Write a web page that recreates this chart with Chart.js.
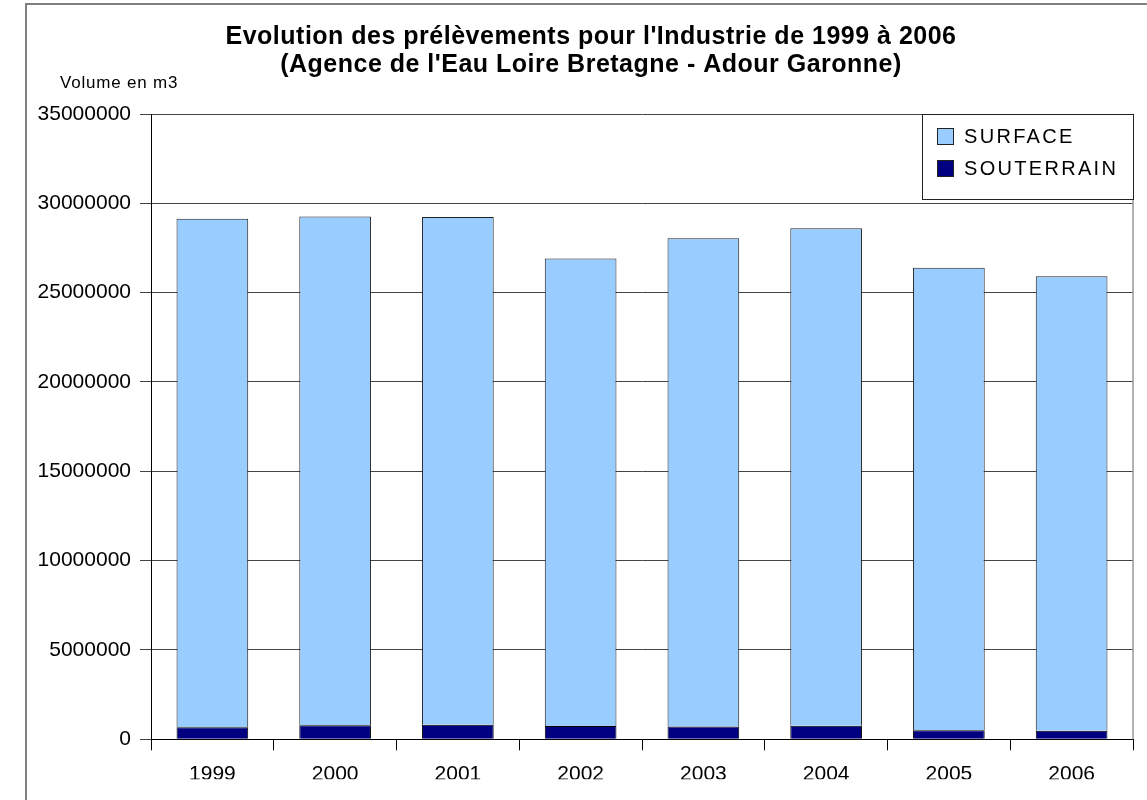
<!DOCTYPE html>
<html>
<head>
<meta charset="utf-8">
<script src="https://cdn.jsdelivr.net/npm/chart.js@4/dist/chart.umd.min.js"></script>
<style>
  html, body { margin: 0; padding: 0; background: #fff; }
  #wrap { width: 1147px; height: 800px; position: relative; }
</style>
</head>
<body>
<div id="wrap"><canvas id="grafica"></canvas></div>
<script>
// DATOS
const annees = ['1999', '2000', '2001', '2002', '2003', '2004', '2005', '2006'];
const souterrain = [670000, 780000, 820000, 740000, 710000, 760000, 500000, 480000];
const surface = [28460000, 28480000, 28410000, 26170000, 27340000, 27850000, 25890000, 25440000];
const yTicks = [0, 5000000, 10000000, 15000000, 20000000, 25000000, 30000000, 35000000];

const titre = ["Evolution des prélèvements pour l'Industrie de 1999 à 2006", "(Agence de l'Eau Loire Bretagne - Adour Garonne)"];
const uniteY = 'Volume en m3';

const police = "'Liberation Sans', Arial, sans-serif";

// cadre gris, titre, unite, bordure droite et legende
const decorPlugin = {
    id: 'decor',
    beforeDraw(chart) {
        const ctx = chart.ctx;
        ctx.save();
        ctx.strokeStyle = '#808080';
        ctx.lineWidth = 2;
        ctx.beginPath();
        ctx.moveTo(26, 800);
        ctx.lineTo(26, 4);
        ctx.lineTo(1147, 4);
        ctx.stroke();

        // titre (2 lignes)
        ctx.fillStyle = '#000';
        ctx.textAlign = 'center';
        ctx.textBaseline = 'middle';
        ctx.font = 'bold 25px ' + police;
        ctx.letterSpacing = '0.5px';
        titre.forEach((ligne, i) => {
            ctx.fillText(ligne, 591, 37.5 + i * 28);
        });

        // unite axe Y
        ctx.textAlign = 'left';
        ctx.font = '17px ' + police;
        ctx.letterSpacing = '0.8px';
        ctx.fillText(uniteY, 60, 83);
        ctx.restore();
    },
    afterDraw(chart) {
        const ctx = chart.ctx;
        const area = chart.chartArea;
        ctx.save();
        // bordure droite
        ctx.strokeStyle = '#999';
        ctx.lineWidth = 1.5;
        ctx.beginPath();
        ctx.moveTo(area.right, area.top);
        ctx.lineTo(area.right, area.bottom);
        ctx.stroke();

        // legende
        const boxW = 211, boxH = 85;
        const x0 = area.right - boxW, y0 = area.top;
        ctx.fillStyle = '#fff';
        ctx.fillRect(x0, y0, boxW, boxH);
        ctx.strokeStyle = '#222';
        ctx.lineWidth = 1;
        ctx.strokeRect(Math.round(x0) + 0.5, Math.round(y0) + 0.5, boxW, boxH);

        const items = chart.data.datasets.slice().reverse();
        ctx.font = '20px ' + police;
        ctx.letterSpacing = '2.3px';
        ctx.textBaseline = 'middle';
        ctx.textAlign = 'left';
        items.forEach((ds, i) => {
            const cy = y0 + 22 + i * 32;
            ctx.fillStyle = ds.backgroundColor;
            ctx.fillRect(x0 + 15, cy - 8, 16, 16);
            ctx.strokeStyle = '#222';
            ctx.strokeRect(x0 + 15.5, cy - 7.5, 16, 16);
            ctx.fillStyle = '#000';
            ctx.fillText(ds.label, x0 + 42, cy + 1);
        });
        ctx.restore();
    }
};

new Chart(document.getElementById('grafica'), {
    type: 'bar',
    data: {
        labels: annees,
        datasets: [
            {
                label: 'SOUTERRAIN',
                data: souterrain,
                backgroundColor: '#000080',
                borderColor: '#000',
                borderWidth: 1
            },
            {
                label: 'SURFACE',
                data: surface,
                backgroundColor: '#99CCFF',
                borderColor: '#222',
                borderWidth: 1
            }
        ]
    },
    options: {
        responsive: true,
        maintainAspectRatio: false,
        animation: false,
        datasets: {
            bar: { barPercentage: 0.584, categoryPercentage: 1 }
        },
        layout: {
            padding: { top: 114, left: 30, right: 14, bottom: 20.7 }
        },
        plugins: {
            legend: { display: false },
            tooltip: { enabled: false },
            title: { display: false }
        },
        scales: {
            x: {
                stacked: true,
                offset: true,
                grid: {
                    offset: true,
                    drawOnChartArea: false,
                    color: '#000',
                    tickLength: 11
                },
                border: { color: '#000', width: 1 },
                ticks: {
                    color: '#000',
                    padding: 11,
                    font: { family: police, size: 21 }
                },
                afterFit(scale) { scale.height = 40; }
            },
            y: {
                stacked: true,
                min: 0,
                max: 35000000,
                afterBuildTicks(scale) {
                    scale.ticks = yTicks.map(v => ({ value: v }));
                },
                grid: {
                    color: '#444',
                    tickLength: 11
                },
                border: { color: '#000', width: 1 },
                ticks: {
                    color: '#000',
                    padding: 9,
                    font: { family: police, size: 21 },
                    callback: (v) => String(v)
                },
                afterFit(scale) { scale.width = 121; }
            }
        }
    },
    plugins: [decorPlugin]
});
</script>
</body>
</html>
